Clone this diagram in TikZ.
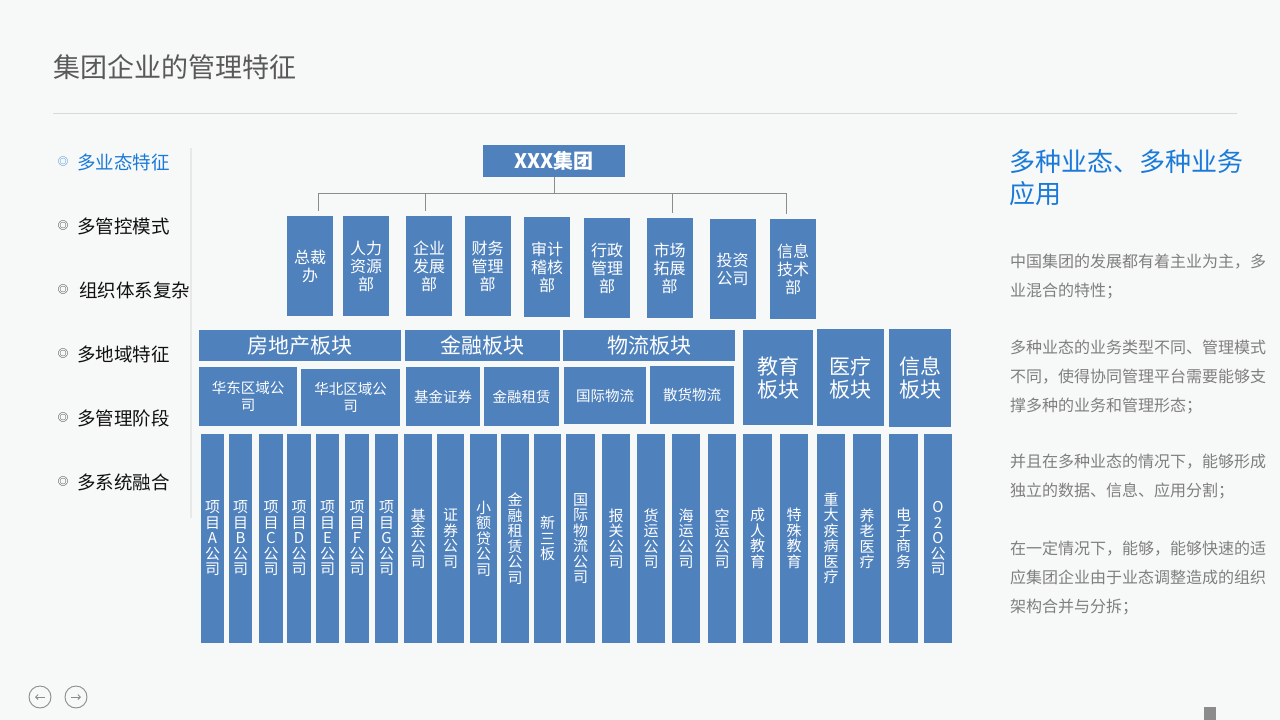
\documentclass[tikz,border=0pt]{standalone}
\usepackage{fontspec}
\setmainfont{Noto Sans CJK SC}
\usetikzlibrary{arrows.meta,positioning}
\definecolor{pagebg}{HTML}{F7F8F8}
\definecolor{blockblue}{HTML}{4F81BD}
\definecolor{titlegray}{HTML}{595959}
\definecolor{rulegray}{HTML}{D9D9D9}
\definecolor{linkgray}{HTML}{8C8C8C}
\definecolor{textgray}{HTML}{7F7F7F}
\definecolor{accent}{HTML}{1A7AD9}
\definecolor{menublack}{HTML}{111111}
\newcommand{\fsz}[2]{\fontsize{#1}{#2}\selectfont}
\tikzset{
  blk/.style={fill=blockblue, text=white, inner sep=0pt, align=center},
  dept/.style={blk, minimum width=46, minimum height=100, font=\fsz{16}{18}},
  band/.style={blk, minimum height=31, font=\fsz{21}{23}},
  unit/.style={blk, minimum height=59, font=\fsz{14.5}{16.5}},
  sector/.style={blk, font=\fsz{21}{23}},
  col/.style={blk, minimum height=209, font=\fsz{15}{15.5}},
  menuitem/.style={anchor=west, inner sep=0pt, font=\fsz{18.5}{20}},
  bullet/.style={inner sep=0pt, font=\fsz{10.5}{11}},
  para/.style={anchor=north west, inner sep=0pt, align=left, text=textgray, font=\fsz{16}{28.7}},
  conn/.style={draw=linkgray, line width=1pt},
  navbtn/.style={circle, draw=linkgray, line width=0.9pt, minimum size=22, inner sep=0pt}
}
\begin{document}
\begin{tikzpicture}[x=1pt, y=-1pt]
\useasboundingbox (0,0) rectangle (1280,720);
\fill[pagebg] (0,0) rectangle (1280,720);
\node[anchor=west, inner sep=0pt, text=titlegray, font=\fsz{27}{30}] (title) at (53,67) {集团企业的管理特征};
\draw[rulegray, line width=1pt] (53,113) -- (1237,113);
\draw[rulegray!60, line width=1.2pt] (191,148) -- (191,518);
\foreach \i/\x/\y/\c/\n in {1/77/162/accent/多业态特征, 2/77/226/menublack/多管控模式, 3/79/290/menublack/组织体系复杂, 4/77/354/menublack/多地域特征, 5/77/418/menublack/多管理阶段, 6/77/482/menublack/多系统融合} {
  \node[bullet, text=\c] (b\i) at (63,\y) {◎};
  \node[menuitem, text=\c] (m\i) at (\x,\y) {\n};
}
\node[blk, minimum width=142, minimum height=32, font=\bfseries\fsz{20}{22}] (grp) at (554,161) {XXX集团};
\foreach \i/\x/\y/\t in {1/310/266/{总裁\\办}, 2/366/266/{人力\\资源\\部}, 3/429/266/{企业\\发展\\部}, 4/487.5/266/{财务\\管理\\部}, 5/547/267/{审计\\稽核\\部}, 6/607/268/{行政\\管理\\部}, 7/669.5/268/{市场\\拓展\\部}, 8/732.5/269/{投资\\公司}, 9/793/269/{信息\\技术\\部}}
  \node[dept] (d\i) at (\x,\y) {\t};
\coordinate (bus) at (554,193);
\draw[conn] (grp.south) -- (bus);
\foreach \d/\s in {d1/8, d3/-4, d7/3, d9/-7}
  \draw[conn] (bus) -| ([xshift=\s pt, yshift=5pt]\d.north);
\node[band, minimum width=202] (reBand) at (300,345.5) {房地产板块};
\node[band, minimum width=155] (finBand) at (482.5,345.5) {金融板块};
\node[band, minimum width=172] (logBand) at (649,345.5) {物流板块};
\node[sector, minimum width=70, minimum height=95] (eduBlk) at (778,377.5) {教育\\板块};
\node[sector, minimum width=67, minimum height=97] (medBlk) at (850.5,377.5) {医疗\\板块};
\node[sector, minimum width=62, minimum height=98] (infoBlk) at (920,378) {信息\\板块};
\node[unit, minimum width=98] (eastCo) at (248,396.5) {华东区域公\\司};
\node[unit, minimum width=99, minimum height=57] (northCo) at (350.5,397.5) {华北区域公\\司};
\node[unit, minimum width=74] (fundSec) at (443,396.5) {基金证券};
\node[unit, minimum width=75] (finLease) at (521.5,396.5) {金融租赁};
\node[unit, minimum width=82, minimum height=57] (intlLog) at (605,395.5) {国际物流};
\node[unit, minimum width=84, minimum height=58] (bulkLog) at (692,395) {散货物流};
\foreach \i/\x/\w/\t in {1/212.5/23/{项\\目\\A\\公\\司}, 2/240.5/23/{项\\目\\B\\公\\司}, 3/271/24/{项\\目\\C\\公\\司}, 4/299/24/{项\\目\\D\\公\\司}, 5/327.5/23/{项\\目\\E\\公\\司}, 6/357/24/{项\\目\\F\\公\\司}, 7/386.5/23/{项\\目\\G\\公\\司}, 8/418/28/{基\\金\\公\\司}, 9/450.5/27/{证\\券\\公\\司}, 10/483.5/27/{小\\额\\贷\\公\\司}, 11/515/28/{金\\融\\租\\赁\\公\\司}, 12/547.5/27/{新\\三\\板}, 13/580.5/29/{国\\际\\物\\流\\公\\司}, 14/616/28/{报\\关\\公\\司}, 15/651/28/{货\\运\\公\\司}, 16/686/28/{海\\运\\公\\司}, 17/722/28/{空\\运\\公\\司}, 18/757.5/29/{成\\人\\教\\育}, 19/794/28/{特\\殊\\教\\育}, 20/831/28/{重\\大\\疾\\病\\医\\疗}, 21/867/28/{养\\老\\医\\疗}, 22/903.5/29/{电\\子\\商\\务}, 23/938/28/{O\\2\\O\\公\\司}}
  \node[col, minimum width=\w] (c\i) at (\x,538.5) {\t};
\node[anchor=north west, inner sep=0pt, align=left, text=accent, font=\fsz{26}{32}] (head) at (1009,149) {多种业态、多种业务\\应用};
\node[para] (p1) at (1010,254) {中国集团的发展都有着主业为主，多\\业混合的特性；};
\node[para] (p2) at (1010,340) {多种业态的业务类型不同、管理模式\\不同，使得协同管理平台需要能够支\\撑多种的业务和管理形态；};
\node[para] (p3) at (1010,454) {并且在多种业态的情况下，能够形成\\独立的数据、信息、应用分割；};
\node[para] (p4) at (1010,541) {在一定情况下，能够，能够快速的适\\应集团企业由于业态调整造成的组织\\架构合并与分拆；};
\node[navbtn] (prev) at (40,697) {};
\node[navbtn] (next) at (76,697) {};
\draw[linkgray, line width=0.9pt, -{Straight Barb[length=2.5pt,width=5pt]}] ([xshift=5pt]prev.center) -- ([xshift=-5pt]prev.center);
\draw[linkgray, line width=0.9pt, -{Straight Barb[length=2.5pt,width=5pt]}] ([xshift=-5pt]next.center) -- ([xshift=5pt]next.center);
\fill[linkgray] (1204,707) rectangle (1216,720);
\end{tikzpicture}
\end{document}
